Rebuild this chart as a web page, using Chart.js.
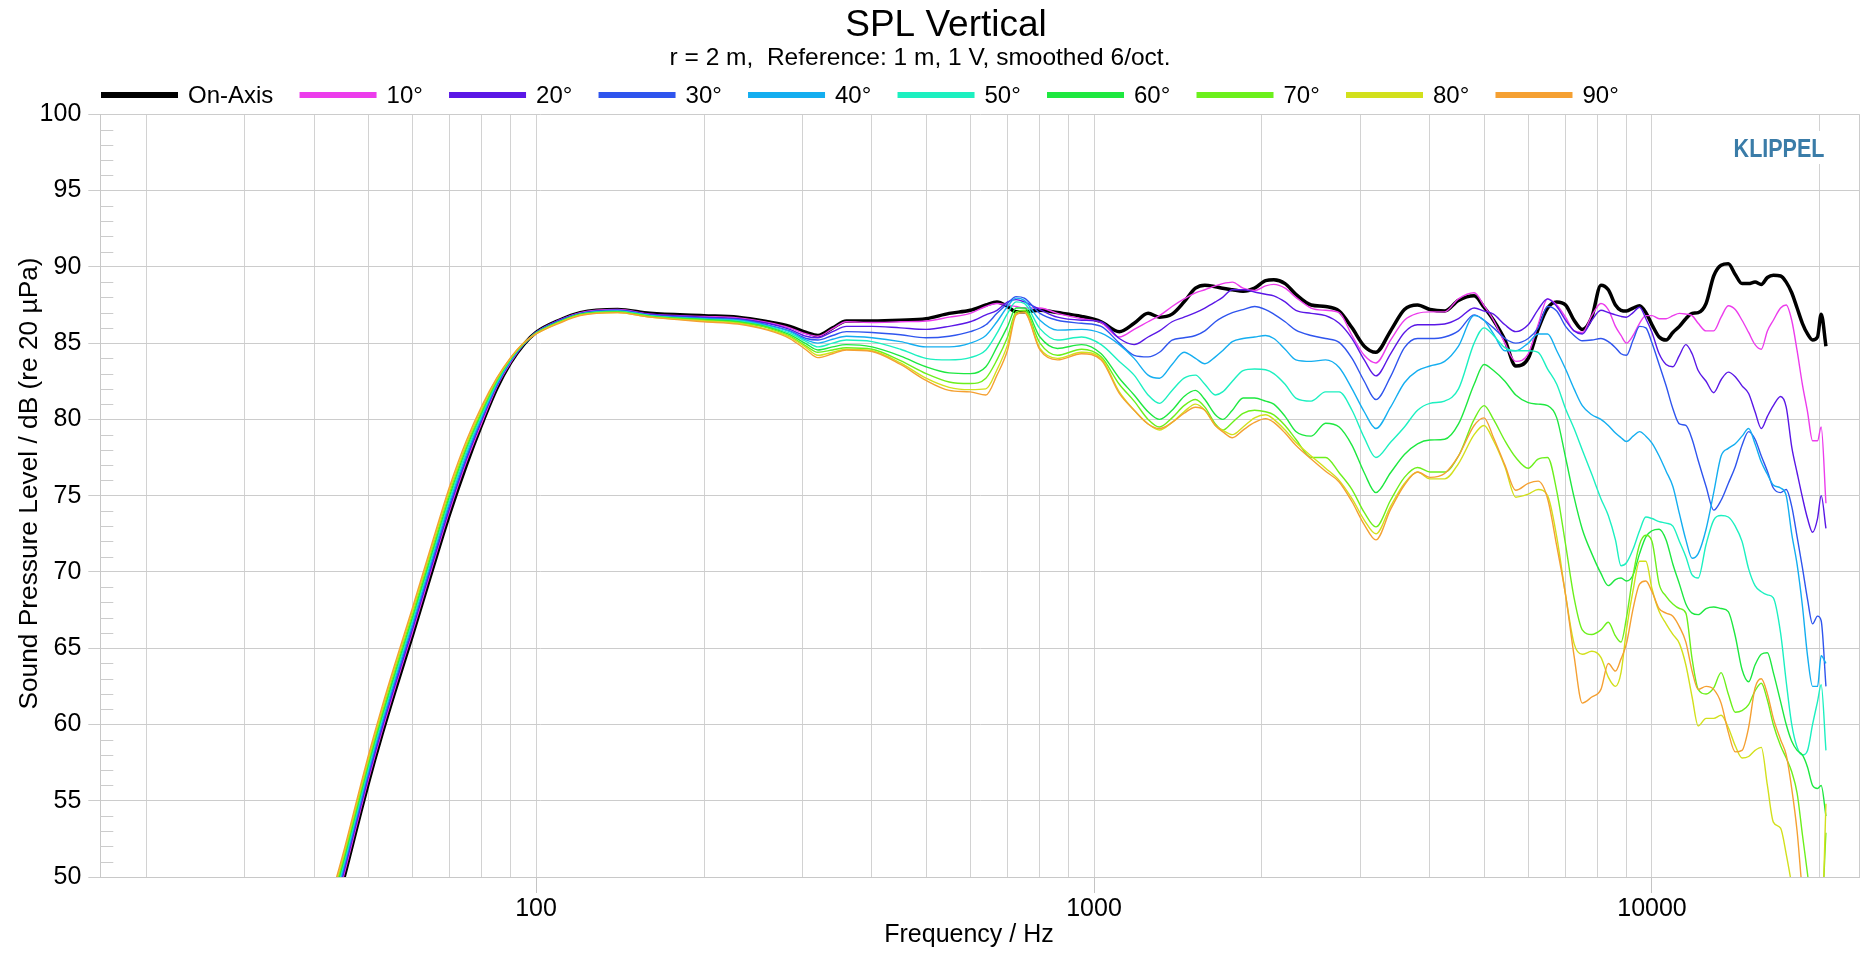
<!DOCTYPE html>
<html><head><meta charset="utf-8">
<script src="https://cdn.jsdelivr.net/npm/chart.js@4.4.1/dist/chart.umd.min.js"></script>
<style>html,body{margin:0;padding:0;background:#fff;overflow:hidden}#wrap{width:1861px;height:958px;position:relative}</style>
</head><body><div id="wrap"><canvas id="c" width="1861" height="958"></canvas></div>
<script>
// ---------------- DATA ----------------
const titleText = 'SPL Vertical';
const subtitleText = 'r = 2 m,  Reference: 1 m, 1 V, smoothed 6/oct.';
const xTitle = 'Frequency / Hz';
const yTitle = 'Sound Pressure Level / dB (re 20 \u00B5Pa)';
const brandText = 'KLIPPEL';

const freqs = [42,45,48,50,53,56,60,65,70,75,80,85,90,95,100,110,120,140,160,200,
  230,260,285,305,320,340,360,400,450,500,550,600,640,670,700,725,750,800,860,950,
  1030,1110,1180,1250,1310,1380,1450,1520,1580,1650,1700,1770,1850,1940,2030,2100,2200,2300,2450,2600,
  2750,2900,3050,3200,3400,3600,3800,4000,4250,4500,4800,5000,5200,5450,5700,6000,6250,6500,6750,7000,
  7250,7500,7800,8100,8350,8600,8800,9000,9250,9500,9750,10000,10300,10600,10900,11200,11500,11800,12100,12500,
  12900,13300,13700,14100,14500,14900,15300,15700,16100,16500,17000,17400,17800,18200,18600,19000,19400,19800,20100,20500];

const onAxis = [45.7,49.6,53.6,56.1,59.4,62.3,65.8,70.0,73.8,77.0,79.7,82.0,83.7,84.9,85.7,86.5,87.0,87.2,86.95,86.8,
  86.7,86.4,86.1,85.7,85.5,86.0,86.45,86.45,86.5,86.6,86.95,87.15,87.5,87.7,87.4,87.05,87.05,87.15,87.0,86.75,
  86.4,85.75,86.3,86.95,86.7,86.9,87.7,88.6,88.8,88.7,88.6,88.5,88.4,88.6,89.1,89.15,88.9,88.2,87.5,87.4,
  87.1,86.0,84.8,84.4,85.8,87.2,87.5,87.2,87.1,87.8,88.1,87.35,86.5,85.2,83.5,84.0,85.9,87.3,87.7,87.5,
  86.5,85.9,86.7,88.8,88.5,87.5,87.15,87.1,87.3,87.45,87.0,86.2,85.4,85.2,85.7,86.1,86.6,86.95,87.0,87.6,
  89.4,90.1,90.2,89.5,88.9,88.9,89.0,88.85,89.3,89.45,89.4,89.0,88.3,87.3,86.3,85.6,85.2,85.4,86.9,84.8];

const deg10 = [45.9,49.8,53.8,56.3,59.6,62.5,66.0,70.2,74.0,77.2,79.8,82.1,83.7,84.9,85.7,86.5,87.0,87.2,86.9,86.75,
  86.65,86.35,86.0,85.6,85.45,85.95,86.4,86.35,86.4,86.45,86.7,86.95,87.4,87.6,87.5,87.4,87.3,87.3,86.95,86.6,
  86.35,85.4,85.9,86.4,86.8,87.4,87.9,88.3,88.5,88.75,88.9,89.0,88.6,88.45,88.75,88.85,88.6,88.0,87.3,87.15,
  87.0,85.5,84.2,83.7,85.2,86.5,86.95,87.05,87.05,87.9,88.3,87.45,86.5,85.0,83.8,84.3,86.2,87.9,87.5,86.7,
  85.8,85.7,86.8,87.6,87.2,86.1,85.5,85.0,85.5,86.3,86.8,86.8,86.6,86.6,86.8,86.95,86.9,86.8,86.3,85.8,
  85.8,86.7,87.45,87.2,86.5,85.7,84.9,84.6,85.8,86.5,87.3,87.5,86.5,84.5,82.3,80.5,78.6,78.6,79.5,74.5];

const deg20 = [46.1,50.0,54.0,56.5,59.8,62.7,66.2,70.4,74.2,77.4,80.0,82.2,83.8,84.9,85.7,86.5,86.95,87.15,86.9,86.7,
  86.6,86.3,85.9,85.45,85.35,85.75,86.1,86.1,86.0,85.9,86.1,86.4,86.85,87.15,87.7,87.85,87.7,87.2,86.7,86.5,
  86.4,85.3,84.9,85.4,85.8,86.4,86.7,87.0,87.3,87.7,88.0,88.5,88.5,88.35,88.2,88.1,87.7,87.15,86.95,86.8,
  86.3,85.3,83.9,82.85,84.3,85.7,86.2,86.2,86.25,86.6,87.3,87.1,86.9,86.2,85.75,86.2,87.2,87.9,87.4,86.5,
  85.8,85.6,86.5,87.15,87.0,86.85,86.75,86.7,87.0,87.35,86.6,85.7,84.3,83.6,83.45,84.2,84.9,84.3,83.2,82.5,
  81.75,82.6,83.1,82.8,82.2,81.7,80.5,79.4,80.2,80.9,81.5,80.8,78.2,76.5,74.9,73.5,72.6,73.5,75.0,72.85];

const deg30 = [46.3,50.2,54.2,56.7,60.0,62.9,66.4,70.6,74.4,77.5,80.1,82.2,83.8,84.9,85.7,86.45,86.95,87.15,86.85,86.65,
  86.55,86.2,85.8,85.3,85.2,85.5,85.75,85.7,85.55,85.35,85.45,85.75,86.2,86.95,87.6,88.05,87.95,86.95,86.5,86.3,
  86.1,85.0,84.2,84.1,84.4,85.2,85.35,85.5,85.8,86.4,86.7,87.0,87.2,87.4,87.2,86.9,86.4,85.85,85.5,85.3,
  85.05,84.0,82.5,81.3,82.8,84.7,85.3,85.3,85.4,85.8,86.85,86.5,86.0,85.3,85.0,85.3,86.0,87.4,87.1,86.1,
  85.5,85.15,85.2,85.3,85.1,84.7,84.3,84.2,85.2,86.1,86.0,85.0,83.6,82.2,80.7,79.7,79.6,78.7,77.3,75.6,
  74.05,74.7,75.8,76.9,78.3,79.2,78.7,77.6,76.6,75.5,75.2,75.4,74.3,72.3,70.3,68.2,66.6,67.1,66.8,62.5];

const deg40 = [46.5,50.4,54.4,56.9,60.2,63.1,66.6,70.8,74.6,77.7,80.2,82.3,83.85,84.95,85.65,86.4,86.9,87.1,86.8,86.6,
  86.5,86.15,85.75,85.2,85.0,85.25,85.45,85.35,85.1,84.75,84.75,85.0,85.5,86.4,87.4,87.95,87.8,86.5,85.85,85.9,
  85.65,84.9,84.0,82.9,82.7,83.6,84.4,84.0,83.65,84.1,84.5,85.1,85.3,85.4,85.5,85.3,84.6,83.9,83.8,83.9,
  83.4,82.0,80.5,79.4,80.8,82.4,83.2,83.5,83.8,84.8,86.8,86.5,85.6,84.5,84.5,85.0,85.6,85.6,84.5,83.3,
  82.0,80.9,80.3,80.0,79.6,79.1,78.8,78.55,78.9,79.2,78.9,78.45,77.6,76.6,75.6,73.8,72.1,70.9,71.2,72.8,
  75.2,77.6,78.1,78.4,78.9,79.4,78.4,77.2,76.4,75.7,75.5,75.0,72.5,70.5,67.8,64.5,62.5,62.5,64.5,64.0];

const deg50 = [46.7,50.6,54.6,57.1,60.4,63.3,66.8,71.0,74.8,77.9,80.35,82.4,83.9,84.95,85.65,86.4,86.9,87.1,86.8,86.55,
  86.45,86.1,85.65,85.1,84.75,85.0,85.2,85.1,84.6,84.0,83.9,84.05,84.55,85.65,86.95,87.7,87.6,85.95,85.2,85.4,
  84.9,83.8,82.9,81.6,81.05,81.9,82.7,82.9,82.3,81.6,81.8,82.5,83.2,83.3,83.25,83.0,82.3,81.4,81.2,81.8,
  81.8,80.6,78.8,77.5,78.5,79.5,80.6,81.05,81.2,82.0,85.0,86.0,85.5,84.7,84.5,84.5,84.4,83.3,82.3,80.7,
  79.4,78.0,76.4,74.8,73.7,72.1,70.4,70.6,71.5,72.7,73.6,73.5,73.3,73.2,73.0,72.0,71.0,69.8,69.6,71.8,
  73.4,73.7,73.6,73.0,72.0,70.2,69.1,68.7,68.5,68.3,66.0,62.8,60.0,58.5,58.0,58.3,60.0,61.5,62.6,58.3];

const deg60 = [46.9,50.8,54.8,57.3,60.6,63.5,67.0,71.2,75.0,78.1,80.5,82.5,83.95,84.95,85.65,86.4,86.9,87.05,86.75,86.55,
  86.4,86.05,85.55,84.95,84.55,84.75,84.9,84.75,84.15,83.45,83.05,83.0,83.45,84.75,86.1,87.3,87.3,85.4,84.65,84.9,
  84.3,82.7,81.6,80.5,80.0,80.6,81.5,81.9,81.3,80.3,80.0,80.6,81.4,81.4,81.2,81.0,80.2,79.2,78.9,79.75,
  79.5,78.3,76.5,75.2,76.5,77.7,78.4,78.65,78.7,79.7,82.3,83.6,83.2,82.5,81.6,81.1,81.0,80.9,80.1,77.5,
  74.9,72.8,71.2,69.9,69.1,69.5,69.6,69.4,69.8,71.2,72.3,72.7,72.8,72.1,70.5,69.2,67.9,67.3,67.2,67.6,
  67.7,67.6,67.4,65.8,63.6,62.8,63.9,64.6,64.7,63.4,61.5,60.0,58.9,58.3,58.0,57.2,56.0,55.8,56.0,54.0];

const deg70 = [47.1,51.0,55.0,57.5,60.8,63.7,67.2,71.4,75.2,78.25,80.6,82.55,84.0,84.95,85.65,86.35,86.85,87.05,86.75,86.5,
  86.35,86.0,85.45,84.8,84.4,84.55,84.7,84.6,83.85,83.0,82.45,82.35,82.7,83.9,85.4,87.05,87.15,85.0,84.2,84.6,
  84.1,82.3,81.2,80.0,79.5,80.1,80.9,81.3,80.8,79.7,79.3,79.8,80.4,80.6,80.5,80.3,79.6,78.7,77.5,77.5,
  76.5,75.4,73.9,72.95,74.7,76.2,76.85,76.55,76.55,77.6,80.0,80.9,80.0,78.6,77.5,76.8,77.4,77.5,75.3,71.8,
  68.3,66.2,65.9,66.2,66.7,65.8,65.4,67.0,69.8,71.8,72.4,72.0,69.2,68.4,67.9,67.6,67.3,64.3,62.3,62.0,
  62.4,63.4,62.0,60.8,60.9,61.3,62.2,62.7,61.6,60.0,58.6,57.8,56.9,55.5,52.8,50.2,47.5,46.5,47.0,52.9];

const deg80 = [47.3,51.2,55.2,57.7,61.0,63.9,67.4,71.6,75.4,78.4,80.75,82.65,84.0,85.0,85.6,86.35,86.85,87.0,86.7,86.45,
  86.3,85.9,85.4,84.7,84.2,84.4,84.6,84.5,83.7,82.7,82.1,81.95,82.0,83.25,84.9,86.95,87.05,84.65,84.0,84.4,
  84.0,81.8,80.6,79.7,79.3,79.8,80.5,81.0,80.6,79.6,79.3,79.0,79.5,80.1,80.3,80.0,79.3,78.5,77.6,76.8,
  76.0,74.8,73.4,72.5,74.3,75.8,76.55,76.1,76.1,77.1,79.0,79.6,78.6,76.9,74.9,75.1,75.4,75.0,72.3,68.5,
  65.3,64.6,64.8,64.4,63.1,62.5,63.4,66.2,68.8,70.7,70.7,68.9,67.4,66.6,65.9,65.3,63.9,61.8,59.9,60.4,
  60.4,60.6,59.8,58.6,57.8,57.9,58.3,58.5,56.0,53.6,53.2,51.5,49.5,47.5,46.0,45.0,44.0,43.5,45.0,54.8];

const deg90 = [47.5,51.4,55.4,57.9,61.2,64.1,67.6,71.8,75.6,78.6,80.9,82.7,84.05,85.0,85.6,86.3,86.8,87.0,86.7,86.4,
  86.25,85.85,85.3,84.55,84.05,84.3,84.55,84.45,83.6,82.55,81.9,81.8,81.6,82.9,84.55,86.85,87.0,84.55,83.9,84.3,
  83.9,81.7,80.6,79.7,79.4,79.8,80.4,80.8,80.6,79.6,79.2,78.8,79.3,79.8,80.05,79.8,79.1,78.3,77.4,76.6,
  75.9,74.6,73.1,72.1,74.1,75.7,76.55,76.2,76.45,77.6,79.6,80.1,78.8,77.0,75.35,75.8,75.95,74.8,71.7,68.5,
  64.5,61.4,61.8,62.3,64.0,63.5,64.3,65.3,67.6,69.2,69.4,68.7,67.6,67.3,67.1,66.4,65.4,63.5,62.3,62.5,
  62.3,61.4,59.5,58.2,58.3,59.8,62.4,63.0,62.0,60.4,59.0,58.0,55.8,53.0,49.0,46.0,44.0,43.0,44.0,45.0];

const seriesLabels = ['On-Axis','10\u00B0','20\u00B0','30\u00B0','40\u00B0','50\u00B0','60\u00B0','70\u00B0','80\u00B0','90\u00B0'];
const seriesValues = [onAxis, deg10, deg20, deg30, deg40, deg50, deg60, deg70, deg80, deg90];
const seriesColors = ['#000000','#ec3cec','#5a17e6','#2f55ee','#14aef0','#1cf0c0','#1ee840','#6cf01c','#d2e01c','#f5a032'];

const yTickValues = [50,55,60,65,70,75,80,85,90,95,100];
const xGridValues = [20,30,40,50,60,70,80,90,100,200,300,400,500,600,700,800,900,
  1000,2000,3000,4000,5000,6000,7000,8000,9000,10000,20000];
const xLabelValues = [100,1000,10000];

// ---------------- CHART ----------------
const FONT = '"Liberation Sans", Arial, Helvetica, sans-serif';
Chart.defaults.font.family = FONT;
Chart.defaults.color = '#000';

const datasets = seriesLabels.map((lab, i) => ({
  label: lab,
  data: freqs.map((f, j) => ({x: f, y: seriesValues[i][j]})),
  borderColor: seriesColors[i],
  backgroundColor: seriesColors[i],
  borderWidth: i === 0 ? 3.5 : 1.4,
  pointRadius: 0,
  fill: false,
  cubicInterpolationMode: 'monotone',
  order: seriesLabels.length - i
}));

const decorPlugin = {
  id: 'decor',
  beforeDatasetsDraw(chart) {
    const {ctx, chartArea: a, scales: {y}} = chart;
    ctx.save();
    // minor y ticks inside plot
    ctx.strokeStyle = '#cccccc';
    ctx.lineWidth = 1;
    for (let v = 50; v <= 100; v++) {
      if (v % 5 === 0) continue;
      const py = Math.round(y.getPixelForValue(v)) + 0.5;
      ctx.beginPath(); ctx.moveTo(a.left, py); ctx.lineTo(a.left + 13, py); ctx.stroke();
    }
    // right border
    ctx.beginPath(); ctx.moveTo(Math.round(a.right) - 0.5, a.top); ctx.lineTo(Math.round(a.right) - 0.5, a.bottom); ctx.stroke();
    // brand box
    ctx.fillStyle = '#ffffff';
    ctx.fillRect(1726, 131, 106, 33);
    ctx.translate(1779, 150.5);
    ctx.scale(0.86, 1);
    ctx.fillStyle = '#3a7ca8';
    ctx.font = 'bold 25px ' + FONT;
    ctx.textAlign = 'center'; ctx.textBaseline = 'middle';
    ctx.fillText(brandText, 0, 0);
    ctx.restore();
  },
  afterDraw(chart) {
    const ctx = chart.ctx;
    ctx.save();
    ctx.fillStyle = '#000';
    ctx.textAlign = 'center'; ctx.textBaseline = 'middle';
    ctx.font = '37px ' + FONT;
    ctx.fillText(titleText, 946, 26);
    ctx.font = '24.5px ' + FONT;
    ctx.fillText(subtitleText, 920, 58);
    // axis titles
    ctx.font = '25px ' + FONT;
    ctx.fillText(xTitle, 969, 935);
    ctx.save();
    ctx.translate(30, 483.5);
    ctx.rotate(-Math.PI / 2);
    ctx.font = '26.3px ' + FONT;
    ctx.fillText(yTitle, 0, 0);
    ctx.restore();
    // legend
    ctx.font = '24px ' + FONT;
    ctx.textAlign = 'left';
    let x = 101; const ly = 95;
    chart.data.datasets.forEach(ds => {
      ctx.fillStyle = ds.borderColor;
      ctx.fillRect(x, ly - 3, 77, 6);
      ctx.fillStyle = '#000';
      ctx.fillText(ds.label, x + 87, ly + 1);
      x += 77 + 10 + ctx.measureText(ds.label).width + 26.2;
    });
    ctx.restore();
  }
};

new Chart(document.getElementById('c'), {
  type: 'line',
  data: {datasets},
  plugins: [decorPlugin],
  options: {
    responsive: false,
    animation: false,
    devicePixelRatio: 1,
    layout: {padding: {top: 114.3, right: 1.3, bottom: 0, left: 0}},
    plugins: {legend: {display: false}, title: {display: false}, tooltip: {enabled: false}},
    scales: {
      x: {
        type: 'logarithmic', min: 16.56, max: 23564,
        afterFit: s => { s.height = 81; },
        afterBuildTicks: s => { s.ticks = xGridValues.map(v => ({value: v})); },
        ticks: {autoSkip: false, maxRotation: 0, minRotation: 0, padding: 1, color: '#000',
          font: {size: 25}, callback: v => xLabelValues.includes(v) ? String(v) : ''},
        grid: {color: '#d2d2d2', lineWidth: 1, tickLength: 16,
          tickColor: c => (c.tick && xLabelValues.includes(c.tick.value)) ? '#c4c4c4' : 'rgba(0,0,0,0)'},
        border: {color: '#c8c8c8', width: 1},
        title: {display: false, text: xTitle}
      },
      y: {
        type: 'linear', min: 50, max: 100,
        afterFit: s => { s.width = 100.3; },
        afterBuildTicks: s => { s.ticks = yTickValues.map(v => ({value: v})); },
        ticks: {autoSkip: false, padding: 7, color: '#000', font: {size: 25}, callback: v => String(v)},
        grid: {color: '#cccccc', lineWidth: 1, tickLength: 12, tickColor: '#cccccc'},
        border: {color: '#c8c8c8', width: 1},
        title: {display: false, text: yTitle}
      }
    }
  }
});
</script>
</body></html>
